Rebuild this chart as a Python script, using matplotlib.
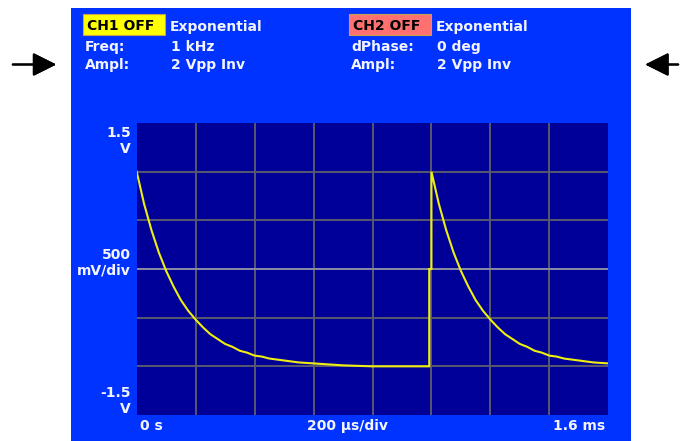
import matplotlib.pyplot as plt
from matplotlib.patches import Rectangle

# Datos de la traza (tiempo en ms, tension en V)
tiempo = [0.0, 0.025, 0.05, 0.075, 0.1, 0.125, 0.15, 0.175, 0.2, 0.225, 0.25,
          0.275, 0.3, 0.325, 0.35, 0.375, 0.4, 0.425, 0.45, 0.475, 0.5, 0.55,
          0.6, 0.7, 0.8, 0.9925, 0.9925, 1.0, 1.0, 1.025, 1.05, 1.075, 1.1,
          1.125, 1.15, 1.175, 1.2, 1.225, 1.25, 1.275, 1.3, 1.325, 1.35, 1.375,
          1.4, 1.425, 1.45, 1.475, 1.5, 1.55, 1.6]
tension = [1.0, 0.67, 0.40, 0.17, -0.02, -0.18, -0.32, -0.43, -0.52, -0.60, -0.67,
           -0.72, -0.77, -0.80, -0.84, -0.86, -0.89, -0.90, -0.92, -0.93, -0.94, -0.96,
           -0.97, -0.99, -1.0, -1.0, 0.0, 0.0, 1.0, 0.67, 0.40, 0.17, -0.02,
           -0.18, -0.32, -0.43, -0.52, -0.60, -0.67, -0.72, -0.77, -0.80, -0.84, -0.86,
           -0.89, -0.90, -0.92, -0.93, -0.94, -0.96, -0.97]

# Textos de la pantalla
canal1 = ['CH1 OFF', 'Exponential', 'Freq:', '1 kHz', 'Ampl:', '2 Vpp Inv']
canal2 = ['CH2 OFF', 'Exponential', 'dPhase:', '0 deg', 'Ampl:', '2 Vpp Inv']
etiquetas_y = [('1.5', 'V'), ('500', 'mV/div'), ('-1.5', 'V')]
etiquetas_x = ['0 s', '200 \u00b5s/div', '1.6 ms']

W, H = 681, 441
AZUL = '#0033ff'
FONDO = '#000099'
BLANCO = '#f4f4ff'
fuente = dict(family='DejaVu Sans', weight='bold', fontsize=10)


def px(x, y):
    # pixeles de la imagen (origen arriba a la izquierda) -> coordenadas de figura
    return x / W, 1 - y / H


fig = plt.figure(figsize=(W / 100, H / 100), dpi=100)
fig.patch.set_facecolor('white')

# Panel azul (detras de los ejes)
x0, y0 = px(71, 441)
fig.add_artist(Rectangle((x0, y0), (631 - 71) / W, (441 - 8) / H, zorder=-5,
                         transform=fig.transFigure, facecolor=AZUL, edgecolor='none'))

# Area de la grafica
ax = fig.add_axes([136.7 / W, 26 / H, (608.3 - 136.7) / W, (415 - 123) / H])
ax.set_zorder(2)
ax.set_facecolor(FONDO)
ax.set_xlim(0, 1.6)
ax.set_ylim(-1.5, 1.5)
for i in range(1, 8):
    ax.axvline(i * 0.2, color='#58586c', lw=1.4, zorder=1)
for v in [-1.0, -0.5, 0.5, 1.0]:
    ax.axhline(v, color='#58586c', lw=1.4, zorder=1)
ax.axhline(0, color='#8a8aa6', lw=1.4, zorder=1)
ax.plot(tiempo, tension, color='#eeee10', lw=1.5, zorder=3, solid_joinstyle='miter')
ax.set_xticks([])
ax.set_yticks([])
for s in ax.spines.values():
    s.set_visible(False)

# Cabeceras de canal
for xc, textos, color in [(83, canal1, '#ffff00'), (349, canal2, '#ff7070')]:
    bx, by = px(xc, 35)
    fig.add_artist(Rectangle((bx, by), 82 / W, 21 / H, transform=fig.transFigure,
                             facecolor=color, edgecolor='#c8a050', lw=0.8))
    fig.text(*px(xc + 4, 30.5), textos[0], color='black', **fuente)
    fig.text(*px(xc + 87, 30.5), textos[1], color=BLANCO, **fuente)
    fig.text(*px(xc + 2, 51), textos[2], color=BLANCO, **fuente)
    fig.text(*px(xc + 88, 51), textos[3], color=BLANCO, **fuente)
    fig.text(*px(xc + 2, 69.5), textos[4], color=BLANCO, **fuente)
    fig.text(*px(xc + 88, 69.5), textos[5], color=BLANCO, **fuente)

# Etiquetas del eje vertical
for (arriba, abajo), yb in zip(etiquetas_y, [137, 259, 397]):
    fig.text(*px(131, yb), arriba, color=BLANCO, ha='right', **fuente)
    fig.text(*px(131, yb + 16), abajo, color=BLANCO, ha='right', **fuente)

# Etiquetas del eje horizontal
fig.text(*px(140, 430), etiquetas_x[0], color=BLANCO, ha='left', **fuente)
fig.text(*px(307, 430), etiquetas_x[1], color=BLANCO, ha='left', **fuente)
fig.text(*px(605, 430), etiquetas_x[2], color=BLANCO, ha='right', **fuente)

# Flechas laterales
flecha = dict(arrowstyle='-|>', color='black', lw=1.5, mutation_scale=36)
fig.add_artist(plt.annotate('', xy=(59, H - 64.5), xytext=(10, H - 64.5),
                            xycoords='figure pixels', textcoords='figure pixels',
                            arrowprops=flecha))
fig.add_artist(plt.annotate('', xy=(642.5, H - 64.5), xytext=(681, H - 64.5),
                            xycoords='figure pixels', textcoords='figure pixels',
                            arrowprops=flecha))

fig.savefig('out.png', dpi=100, facecolor='white')
